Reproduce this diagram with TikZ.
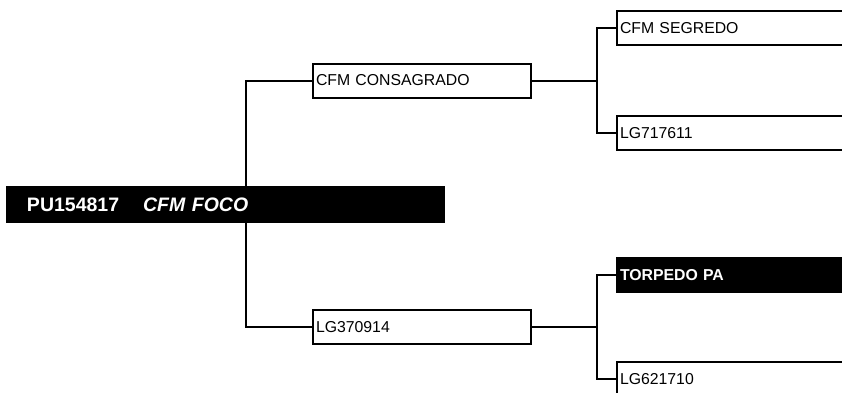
\documentclass[tikz,border=0pt]{standalone}
\usepackage{fontspec}
\setmainfont{Liberation Sans}
\usetikzlibrary{positioning,backgrounds}
\tikzset{horse/.style={draw, line width=2pt, minimum height=34pt, inner xsep=3pt, inner ysep=0pt,
  text width=212pt, align=left, font=\fontsize{15.8}{18}\selectfont},
champion/.style={horse, fill=black, text=white, font=\fontsize{15.8}{18}\selectfont\bfseries},
outer/.style={text width=294pt},
link/.style={line width=2pt}
}

\begin{document}
\begin{tikzpicture}[node distance=2cm, on grid]
        \useasboundingbox (-225.5pt,-187.5pt) rectangle (616.5pt,204.5pt);
        \clip (-225.5pt,-187.5pt) rectangle (616.5pt,204.5pt);
        \node[champion, minimum height=35pt, inner xsep=20pt, text width=397pt,
              font=\fontsize{19.5}{22}\selectfont\bfseries] (root) {PU154817\hspace{24pt}\textit{CFM FOCO}};
        \node[horse]          (sire) [above right=124pt and 196.5pt of root] {CFM CONSAGRADO};
        \node[horse]          (dam)  [below right=122.5pt and 196.5pt of root] {LG370914};
        \node[horse,outer]    (ss)   [above right=52.5pt and 345pt of sire] {CFM SEGREDO};
        \node[horse,outer]    (sd)   [below right=52.5pt and 345pt of sire] {LG717611};
        \node[champion,outer] (ds)   [above right=52pt and 345pt of dam] {TORPEDO PA};
        \node[horse,outer]    (dd)   [below right=52pt and 345pt of dam] {LG621710};

        \begin{scope}[on background layer]
          \draw[link] (sire.west) -- ++(-66pt,0) |- (dam.west);
        \end{scope}
        \draw[link] (sire.east) -- ++(65pt,0) |- (ss.west)
                    (sire.east)    ++(65pt,0) |- (sd.west);
        \draw[link] (dam.east)  -- ++(65pt,0) |- (ds.west)
                    (dam.east)     ++(65pt,0) |- (dd.west);
      \end{tikzpicture}
\end{document}
